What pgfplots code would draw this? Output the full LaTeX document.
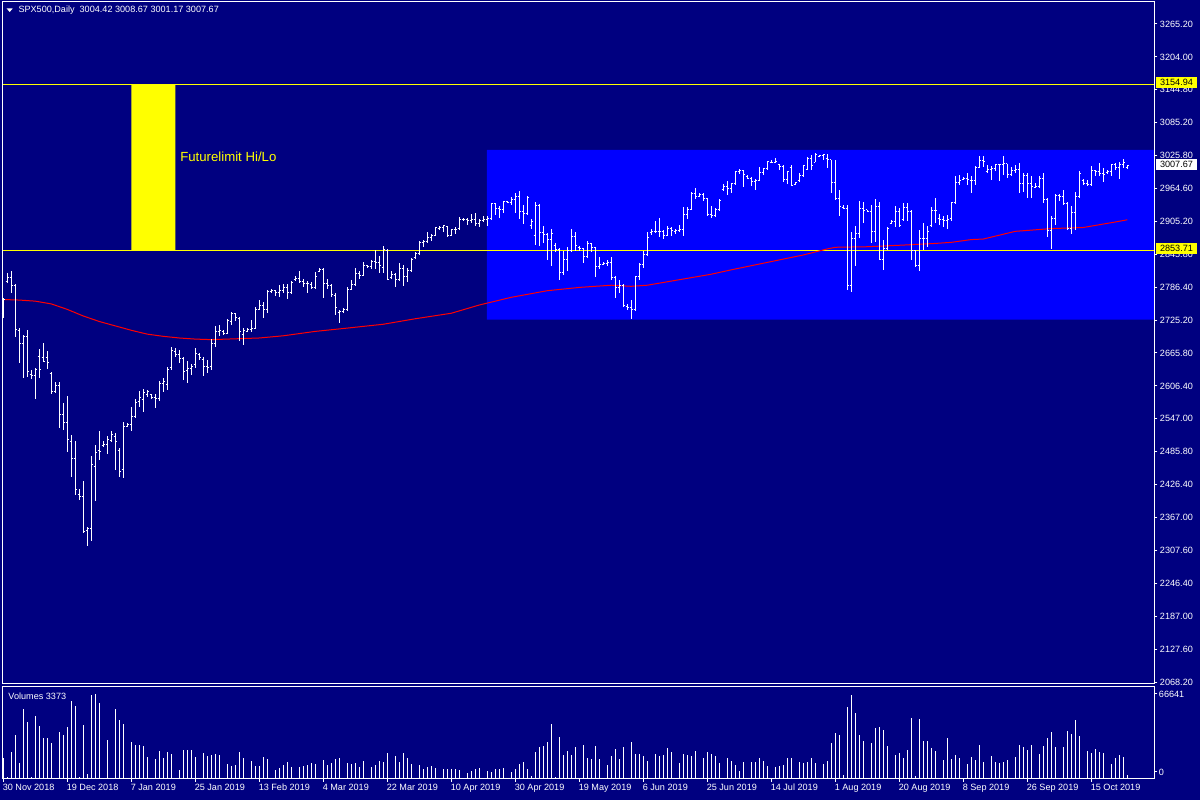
\documentclass[border=0pt]{standalone}
\usepackage{pgfplots}
\pgfplotsset{compat=1.18}
\usepackage{pgfplotstable}
\usepackage{fontspec}
\setmainfont{Liberation Sans}
\definecolor{mtnavy}{HTML}{000080}
\definecolor{mtblue}{HTML}{0000FF}
\definecolor{mtyellow}{HTML}{FFFF00}
\definecolor{mtred}{HTML}{FF0000}
\pgfdeclareplotmark{otick}{\pgfpathmoveto{\pgfqpoint{-1.6pt}{0pt}}\pgfpathlineto{\pgfqpoint{0pt}{0pt}}\pgfusepathqstroke}
\pgfdeclareplotmark{ctick}{\pgfpathmoveto{\pgfqpoint{0pt}{0pt}}\pgfpathlineto{\pgfqpoint{1.6pt}{0pt}}\pgfusepathqstroke}
\newcommand{\lblfont}{\fontsize{9.1}{11}\selectfont}

\pgfplotstableread{
i o h l c v
0 2738 2767 2730 2764 16200
1 2796 2813 2795 2804 1800
2 2804 2816 2775 2789 21400
3 2789 2792 2695 2710 34500
4 2708 2712 2648 2684 12800
5 2684 2700 2622 2697 54900
6 2697 2708 2623 2633 44700
7 2628 2636 2620 2625 1800
8 2625 2640 2583 2637 49400
9 2660 2674 2621 2637 41600
10 2658 2685 2650 2651 32100
11 2658 2671 2637 2650 32100
12 2630 2632 2593 2597 28500
13 2596 2614 2594 2607 1000
14 2607 2614 2531 2555 36800
15 2555 2575 2526 2541 34500
16 2541 2588 2487 2510 40800
17 2505 2518 2442 2475 61200
18 2475 2507 2408 2419 57200
19 2410 2420 2400 2405 1800
20 2405 2434 2340 2342 42300
21 2344 2351 2316 2347 3900
22 2347 2479 2324 2463 65900
23 2460 2499 2398 2486 66600
24 2490 2524 2472 2487 59600
25 2499 2506 2496 2500 800
26 2500 2515 2483 2510 30600
27 2508 2524 2505 2519 300
28 2515 2521 2453 2505 54900
29 2490 2493 2442 2451 46300
30 2455 2542 2440 2533 43100
31 2533 2540 2532 2537 800
32 2537 2568 2524 2552 29000
33 2552 2583 2548 2577 26700
34 2578 2598 2569 2585 26700
35 2582 2601 2560 2594 25900
36 2592 2599 2587 2596 17200
37 2592 2593 2583 2585 500
38 2585 2592 2567 2584 15700
39 2584 2615 2580 2612 22000
40 2612 2622 2596 2615 16500
41 2610 2642 2600 2636 21200
42 2640 2678 2636 2671 19600
43 2670 2675 2660 2664 500
44 2664 2672 2648 2656 7100
45 2657 2660 2617 2633 22700
46 2634 2653 2613 2639 22700
47 2639 2647 2627 2642 22700
48 2645 2675 2640 2666 17200
49 2664 2666 2654 2658 500
50 2655 2660 2624 2643 20400
51 2643 2654 2631 2640 18000
52 2642 2693 2636 2684 18800
53 2684 2716 2678 2706 19600
54 2706 2718 2697 2707 18800
55 2705 2708 2700 2703 500
56 2703 2728 2702 2725 11800
57 2724 2742 2718 2738 10200
58 2738 2740 2724 2732 11000
59 2730 2733 2688 2706 21200
60 2700 2712 2681 2708 16500
61 2706 2713 2705 2710 500
62 2710 2727 2704 2711 14100
63 2712 2751 2711 2746 10200
64 2746 2764 2745 2753 10200
65 2753 2760 2730 2746 17200
66 2746 2781 2740 2778 15700
67 2778 2783 2775 2780 500
68 2780 2782 2770 2776 7100
69 2776 2790 2769 2781 8600
70 2781 2793 2775 2786 11000
71 2786 2792 2765 2776 13300
72 2776 2798 2774 2795 9400
73 2800 2807 2799 2803 500
74 2803 2816 2794 2797 9400
75 2797 2801 2787 2794 10200
76 2793 2797 2776 2793 11000
77 2792 2796 2783 2785 12500
78 2785 2814 2783 2806 11800
79 2815 2821 2814 2818 500
80 2818 2821 2767 2793 14900
81 2793 2801 2784 2790 11000
82 2790 2793 2769 2773 12500
83 2772 2775 2736 2749 15700
84 2740 2745 2722 2743 16500
85 2742 2748 2739 2745 600
86 2745 2786 2744 2783 12500
87 2783 2800 2782 2791 11800
88 2791 2822 2790 2811 12500
89 2811 2816 2802 2808 9400
90 2808 2832 2806 2825 14100
91 2825 2827 2821 2824 500
92 2824 2836 2820 2833 9400
93 2833 2854 2820 2832 11000
94 2832 2843 2812 2825 14100
95 2822 2861 2812 2855 13300
96 2854 2856 2799 2801 20400
97 2804 2815 2802 2809 1000
98 2809 2812 2786 2800 18000
99 2800 2830 2798 2820 13300
100 2820 2827 2789 2806 20400
101 2806 2822 2795 2816 16500
102 2816 2840 2815 2837 11800
103 2840 2850 2839 2847 500
104 2848 2870 2845 2868 11000
105 2868 2872 2860 2869 7800
106 2870 2886 2866 2876 9400
107 2876 2883 2870 2881 10200
108 2881 2896 2880 2895 8600
109 2894 2897 2891 2895 500
110 2895 2899 2886 2898 7800
111 2897 2898 2878 2881 7800
112 2881 2893 2879 2891 7800
113 2891 2896 2884 2891 7800
114 2893 2914 2892 2910 7100
115 2910 2913 2907 2909 500
116 2909 2913 2899 2908 4700
117 2908 2919 2904 2910 6300
118 2910 2922 2898 2903 7800
119 2903 2910 2896 2908 8600
120 2907 2915 2906 2910 500
121 2910 2915 2898 2912 6300
122 2912 2940 2908 2938 5500
123 2938 2940 2918 2930 7800
124 2930 2934 2913 2928 7800
125 2928 2944 2922 2942 8600
126 2942 2943 2939 2941 500
127 2941 2950 2936 2946 5500
128 2946 2958 2922 2952 7800
129 2952 2962 2910 2924 11800
130 2924 2936 2902 2920 13300
131 2920 2952 2918 2950 7800
132 2898 2910 2893 2905 2400
133 2880 2942 2863 2935 21200
134 2935 2938 2862 2886 25100
135 2886 2897 2866 2882 25900
136 2882 2885 2836 2873 29000
137 2873 2893 2825 2884 43100
138 2862 2866 2850 2855 1600
139 2855 2858 2800 2814 32900
140 2814 2852 2808 2837 18800
141 2837 2860 2815 2853 22000
142 2853 2892 2852 2878 18800
143 2878 2887 2853 2862 25100
144 2858 2862 2852 2856 500
145 2856 2858 2830 2842 26700
146 2842 2870 2840 2866 16500
147 2866 2867 2851 2858 15700
148 2858 2860 2805 2824 25900
149 2824 2842 2820 2828 15700
150 2828 2833 2826 2830 500
151 2830 2836 2825 2832 11000
152 2832 2841 2800 2804 18000
153 2804 2806 2766 2785 23500
154 2785 2800 2776 2790 15700
155 2790 2792 2750 2753 25100
156 2752 2756 2745 2749 800
157 2749 2764 2728 2746 29000
158 2746 2806 2744 2805 19600
159 2805 2830 2800 2828 19600
160 2828 2853 2822 2845 18000
161 2845 2886 2843 2876 14100
162 2885 2892 2882 2888 800
163 2888 2906 2885 2888 19600
164 2888 2912 2878 2887 18000
165 2887 2890 2874 2881 18800
166 2881 2897 2880 2893 24300
167 2893 2896 2879 2889 21200
168 2888 2892 2884 2889 500
169 2889 2899 2887 2891 12500
170 2891 2932 2880 2919 19600
171 2919 2933 2910 2928 18800
172 2928 2960 2926 2956 18000
173 2956 2966 2946 2952 22000
174 2952 2958 2950 2955 500
175 2955 2957 2944 2947 16500
176 2947 2949 2916 2919 21200
177 2919 2935 2913 2916 19600
178 2916 2931 2914 2927 18000
179 2927 2946 2925 2944 12500
180 2965 2975 2962 2970 800
181 2970 2980 2954 2966 16500
182 2966 2975 2957 2975 14100
183 2975 2998 2974 2997 11000
184 2997 3001 2993 2998 6300
185 2998 2999 2969 2992 13300
186 2988 2991 2983 2985 500
187 2985 2986 2971 2978 13300
188 2978 2984 2964 2981 13300
189 2981 3005 2980 2995 16500
190 2995 3004 2990 3002 14100
191 3002 3016 3001 3015 10200
192 3014 3018 3012 3014 500
193 3014 3021 3012 3015 9400
194 3010 3011 3000 3006 10200
195 3006 3009 2978 2983 11000
196 2983 2998 2975 2997 16500
197 3005 3009 2970 2972 16500
198 2974 2978 2972 2976 500
199 2980 2994 2978 2989 13300
200 2989 3009 2988 3007 12500
201 3000 3024 3000 3021 13300
202 3021 3027 3000 3007 16500
203 3014 3030 3014 3027 12500
204 3025 3027 3024 3026 600
205 3026 3029 3018 3027 11800
206 3020 3029 3003 3018 14100
207 3018 3018 2958 2977 28200
208 2977 3018 2945 2948 36100
209 2948 2963 2915 2933 34500
210 2931 2936 2928 2930 3100
211 2930 2936 2781 2790 56400
212 2790 2887 2778 2875 66000
213 2875 2897 2825 2884 52000
214 2884 2943 2875 2930 34500
215 2930 2942 2903 2926 30000
216 2927 2927 2923 2924 1000
217 2924 2936 2866 2887 28200
218 2887 2946 2869 2934 40000
219 2934 2942 2836 2837 40800
220 2837 2873 2818 2857 38400
221 2857 2895 2854 2893 25900
222 2903 2909 2902 2906 800
223 2906 2934 2895 2924 18800
224 2924 2930 2895 2898 20400
225 2910 2940 2906 2932 16500
226 2932 2940 2906 2924 22700
227 2924 2927 2836 2854 47800
228 2854 2854 2824 2825 2400
229 2825 2890 2815 2875 47000
230 2875 2904 2854 2875 29800
231 2875 2897 2860 2887 29800
232 2898 2933 2896 2926 24300
233 2926 2948 2903 2926 22000
234 2912 2920 2900 2910 800
235 2910 2916 2895 2908 14900
236 2908 2918 2892 2910 32100
237 2912 2942 2906 2940 15700
238 2940 2988 2939 2977 18800
239 2977 2990 2972 2980 16500
240 2983 2986 2982 2984 500
241 2984 2994 2972 2982 11800
242 2981 2989 2958 2981 17200
243 2981 3007 2972 3005 14900
244 3005 3025 3003 3017 26700
245 3017 3025 3005 3015 13300
246 2996 3009 2995 3000 800
247 3000 3007 2981 3003 18000
248 3003 3011 2997 3009 13300
249 3009 3011 2980 3009 12500
250 3010 3025 2991 3011 13300
251 3011 3011 2985 2991 14900
252 2992 3005 2988 2998 800
253 2998 3009 2994 3001 17200
254 3001 3012 2958 2975 26700
255 2975 2995 2960 2989 25100
256 2989 2995 2948 2975 22700
257 2975 2988 2948 2969 26700
258 2968 2976 2966 2970 500
259 2970 2988 2966 2985 19600
260 2985 2995 2939 2946 25900
261 2946 2948 2877 2889 32100
262 2889 2916 2855 2912 36800
263 2912 2956 2900 2954 25100
264 2954 2956 2944 2952 800
265 2952 2963 2936 2939 25100
266 2939 2942 2890 2893 37600
267 2893 2934 2884 2922 35300
268 2922 2960 2890 2951 46300
269 2951 2997 2948 2994 33700
270 2980 2983 2972 2975 800
271 2975 2982 2970 2973 22000
272 2973 3007 2970 2998 20400
273 2998 3000 2989 2996 23500
274 2996 3013 2988 2994 21200
275 2994 3003 2978 2992 20400
276 2995 2999 2992 2997 500
277 2997 3011 2989 3009 11800
278 3009 3012 2999 3004 16500
279 3004 3015 2983 3009 18800
280 3009 3019 3003 3013 17200
281 3004.42 3008.67 3001.17 3007.67 3373
}\ohlc

\pgfplotstableread{
i ma
0 2764
4 2763
8 2761
12 2756
16 2746
20 2734
24 2724
28 2716
32 2708
36 2701
40 2697
44 2694
48 2692
52 2691
56 2692
60 2693
64 2694
70 2698
78 2706
86 2712
95 2719
103 2729
112 2739
119 2754
127 2768
136 2780
144 2786
152 2790
157 2788
161 2790
169 2800
177 2810
182 2818
192 2833
200 2845
206 2856
208 2859
216 2860
225 2863
233 2866
237 2868
242 2873
245 2874
253 2888
262 2893
270 2895
278 2905
281 2909
}\matable

\begin{document}
\begin{tikzpicture}
\path[use as bounding box, fill=mtnavy] (0pt,0pt) rectangle (1200pt,800pt);

% main price window
\begin{axis}[
  at={(2.7pt,116pt)}, anchor=south west, scale only axis,
  width=1151.6pt, height=682pt,
  xmin=-0.15, xmax=287.75, ymin=2064.6, ymax=3305.2,
  axis on top,
  axis line style={white, line width=1pt},
  axis background/.style={fill=mtnavy},
  xtick=\empty,
  ytick={3265.2,3205.35,3145.5,3085.65,3025.8,2965.95,2906.1,2846.25,2786.4,2726.55,2666.7,2606.85,2547.0,2487.15,2427.3,2367.45,2307.6,2247.75,2187.9,2128.05,2068.2},
  yticklabels={3265.20,3204.00,3144.80,3085.20,3025.80,2964.60,2905.20,2845.80,2786.40,2725.20,2665.80,2606.40,2547.00,2485.80,2426.40,2367.00,2307.60,2246.40,2187.00,2127.60,2068.20},
  ytick pos=right, yticklabel pos=right,
  tick align=outside, major tick length=3pt,
  tick style={white, line width=1pt},
  yticklabel style={font=\lblfont, text=white, anchor=west, inner sep=0pt, xshift=2.5pt},
]
\addplot[fill=mtyellow, draw=none] coordinates {(32,2853.71) (43,2853.71) (43,3154.94) (32,3154.94) (32,2853.71)};
\addplot[fill=mtblue, draw=none] coordinates {(120.9,2727.6) (295,2727.6) (295,3036.0) (120.9,3036.0) (120.9,2727.6)};
\addplot[mtyellow, line width=1pt] coordinates {(-5,3154.94) (295,3154.94)};
\addplot[mtyellow, line width=1pt] coordinates {(-5,2853.71) (295,2853.71)};
\addplot[mtred, line width=1pt, mark=none] table[x=i, y=ma] {\matable};
\addplot[white, only marks, mark=otick, mark options={line width=1pt, white},
  error bars/.cd, y dir=both, y explicit, error mark=none,
  error bar style={line width=1pt, white}]
  table[x=i, y=o, y error plus expr=\thisrow{h}-\thisrow{o}, y error minus expr=\thisrow{o}-\thisrow{l}] {\ohlc};
\addplot[white, only marks, mark=ctick, mark options={line width=1pt, white}] table[x=i, y=c] {\ohlc};
\node[anchor=west, inner sep=0pt, text=mtyellow, font=\fontsize{13.2}{15}\selectfont] at (axis cs:44.2,3023) {Futurelimit Hi/Lo};
\end{axis}

% volume window
\begin{axis}[
  at={(2.7pt,21pt)}, anchor=south west, scale only axis,
  width=1151.6pt, height=92pt,
  xmin=-0.15, xmax=287.75, ymin=0, ymax=72128,
  axis on top,
  axis line style={white, line width=1pt},
  axis background/.style={fill=mtnavy},
  xtick={0,16,...,272},
  xticklabels={30 Nov 2018,19 Dec 2018,7 Jan 2019,25 Jan 2019,13 Feb 2019,4 Mar 2019,22 Mar 2019,10 Apr 2019,30 Apr 2019,19 May 2019,6 Jun 2019,25 Jun 2019,14 Jul 2019,1 Aug 2019,20 Aug 2019,8 Sep 2019,26 Sep 2019,15 Oct 2019},
  xtick pos=bottom,
  ytick={5488,66641}, yticklabels={0,66641},
  scaled y ticks=false,
  ytick pos=right, yticklabel pos=right,
  tick align=outside, major tick length=3pt,
  tick style={white, line width=1pt},
  yticklabel style={font=\lblfont, text=white, anchor=west, inner sep=0pt, xshift=1.5pt},
  xticklabel style={font=\lblfont, text=white, anchor=north west, inner sep=0pt, yshift=-2pt, xshift=-0.7pt},
]
\addplot[ycomb, white, line width=1pt, mark=none] table[x=i, y=v] {\ohlc};
\end{axis}

% title and labels
\fill[white] (6.7pt,791.5pt) -- (12.7pt,791.5pt) -- (9.7pt,788pt) -- cycle;
\node[anchor=west, inner sep=0pt, text=white, font=\lblfont] at (18.3pt,789.5pt) {SPX500,Daily\ \ 3004.42 3008.67 3001.17 3007.67};
\node[anchor=west, inner sep=0pt, text=white, font=\lblfont] at (8.3pt,103.3pt) {Volumes 3373};
\node[fill=mtyellow, text=black, inner sep=0pt, minimum width=41pt, minimum height=11pt, font=\lblfont] at (1176.5pt,717.2pt) {3154.94};
\node[fill=white, text=black, inner sep=0pt, minimum width=41pt, minimum height=11pt, font=\lblfont] at (1176.5pt,635.3pt) {3007.67};
\node[fill=mtyellow, text=black, inner sep=0pt, minimum width=41pt, minimum height=11pt, font=\lblfont] at (1176.5pt,551.3pt) {2853.71};
\end{tikzpicture}
\end{document}
